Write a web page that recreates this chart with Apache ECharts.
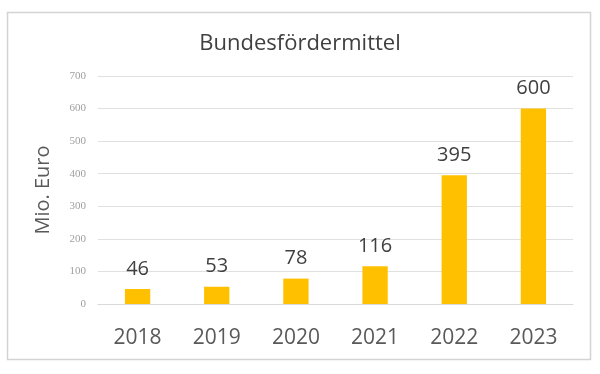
<!DOCTYPE html>
<html><head><meta charset="utf-8">
<script src="https://cdn.jsdelivr.net/npm/echarts@6/dist/echarts.min.js"></script>
<style>html,body{margin:0;padding:0;background:#fff}#c{width:600px;height:374px}</style>
</head><body><div id="c"></div>
<script>
const categories = ['2018','2019','2020','2021','2022','2023'];
const values = [46, 53, 78, 116, 395, 600];
const titleText = 'Bundesfördermittel';
const yAxisName = 'Mio. Euro';

const chart = echarts.init(document.getElementById('c'), null, {renderer:'canvas'});
const font = '"Open Sans", sans-serif';
chart.setOption({
  animation: false,
  backgroundColor: '#fff',
  title: {text: titleText, left: 'center', top: 28,
    textStyle: {fontFamily: font, fontSize: 22, fontWeight: 'normal', color: '#404040'}},
  graphic: [{type:'rect', shape:{x:7.5, y:12.5, width:583, height:347},
    style:{fill:'none', stroke:'#d4d4d4', lineWidth:1.5}, silent:true}],
  grid: {left: 98, right: 27, top: 76, bottom: 70},
  xAxis: {type:'category', data: categories,
    axisLine:{lineStyle:{color:'#d9d9d9'}}, axisTick:{show:false},
    axisLabel:{fontFamily: font, fontSize: 21, color:'#595959', margin: 24}},
  yAxis: {type:'value', min:0, max:700, interval:100,
    name: yAxisName, nameLocation:'middle', nameGap: 45, nameRotate: 90,
    nameTextStyle:{fontFamily: font, fontSize: 20, color:'#595959'},
    axisLine:{show:false}, axisTick:{show:false},
    splitLine:{lineStyle:{color:'#e0e0e0'}},
    axisLabel:{fontFamily: 'Liberation Serif, serif', fontSize: 11, color:'#a0a0a0', margin: 12}},
  series: [{type:'bar', data: values, barWidth: '32%',
    itemStyle:{color:'#FFC000'},
    label:{show:true, position:'top', distance: 10, fontFamily: font, fontSize: 20, color:'#404040'}}]
});
</script></body></html>
